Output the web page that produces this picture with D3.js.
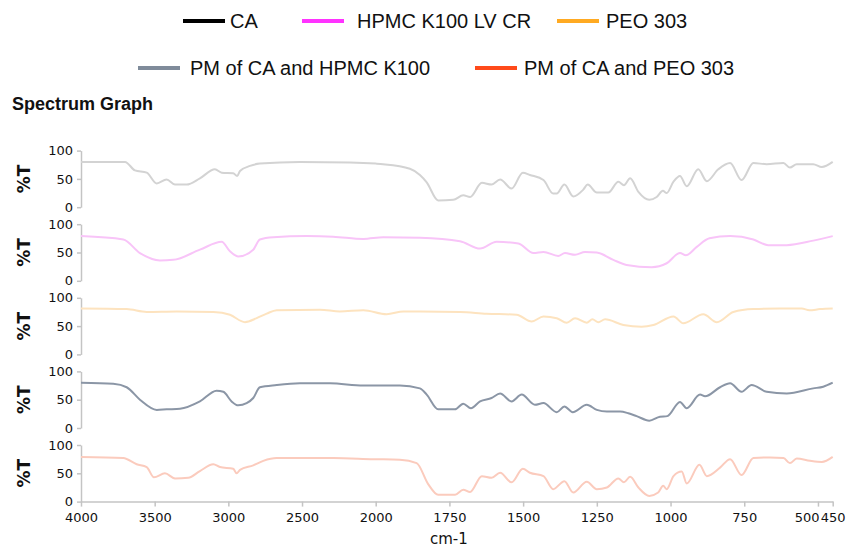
<!DOCTYPE html>
<html>
<head>
<meta charset="utf-8">
<script src="https://cdn.jsdelivr.net/npm/d3@7"></script>
<style>
  body { margin: 0; background: #fff; }
  svg { display: block; }
</style>
</head>
<body>
<svg id="chart" width="849" height="550"></svg>
<script>
// ---------- DATA ----------
const seriesNames = ["CA", "HPMC K100 LV CR", "PEO 303", "PM of CA and HPMC K100", "PM of CA and PEO 303"];
const legendColors = ["#000000", "#ff33ff", "#ffaa22", "#7f8b9a", "#ff4a1a"];
const lineColors = ["#d3d3d3", "#f8c4f8", "#fde3bf", "#8b96a6", "#fbcbbd"];

const xTicks = [4000, 3500, 3000, 2500, 2000, 1750, 1500, 1250, 1000, 750, 500, 450];
const yTicks = [0, 50, 100];

// [wavenumber (cm-1), %T]
const caData = [
  [4000,80],[3701,80],[3634,65],[3554,61],[3486,42],[3419,49],[3362,40],[3283,40],[3193,51],
  [3091,67],[3045,61],[2967,60],[2940,55],[2921,64],[2853,73],[2786,77],[2514,80],[2175,79],
  [2000,77],[1975,76],[1884,68],[1850,57],[1827,44],[1788,12],[1737,13],[1703,21],[1680,18],
  [1640,43],[1607,40],[1578,49],[1539,33],[1501,61],[1477,57],[1431,48],[1398,24],[1386,24],
  [1360,40],[1330,19],[1296,31],[1281,40],[1250,26],[1211,26],[1177,45],[1158,39],[1137,51],
  [1109,27],[1072,13],[1047,18],[1026,29],[1013,25],[990,45],[968,55],[945,37],[906,67],
  [877,46],[838,67],[798,78],[759,48],[719,78],[674,76],[617,78],[595,70],[572,76],[516,76],
  [487,71],[450,80]
];
const hpmcData = [
  [4000,79],[3713,73],[3600,49],[3464,36],[3374,37],[3193,55],[3045,69],[2989,52],[2933,43],
  [2831,55],[2786,73],[2695,77],[2469,79],[2288,78],[2084,74],[1974,77],[1850,76],[1714,70],
  [1646,57],[1590,69],[1516,66],[1465,49],[1431,51],[1381,44],[1358,49],[1324,46],[1290,51],
  [1250,50],[1194,37],[1149,28],[1064,24],[1013,31],[968,49],[948,45],[911,60],[868,75],
  [798,79],[719,73],[669,63],[606,63],[516,71],[450,79]
];
const peoData = [
  [4000,81],[3690,80],[3554,75],[3351,76],[3102,75],[2989,70],[2887,57],[2808,64],[2740,72],
  [2672,78],[2378,79],[2243,76],[2084,78],[1963,71],[1906,76],[1850,76],[1714,75],[1624,72],
  [1522,70],[1471,58],[1431,67],[1386,64],[1352,56],[1324,64],[1284,56],[1265,62],[1245,57],
  [1222,62],[1160,52],[1098,49],[1058,52],[990,67],[957,55],[889,71],[843,57],[787,75],
  [719,80],[629,81],[555,81],[529,78],[493,80],[450,81]
];
const pmHpmcData = [
  [4000,80],[3781,78],[3690,72],[3600,50],[3486,32],[3419,33],[3328,34],[3193,47],[3080,66],
  [3034,64],[2978,47],[2933,40],[2876,44],[2831,53],[2786,72],[2672,76],[2514,79],[2310,79],
  [2084,75],[1918,75],[1850,70],[1827,59],[1788,33],[1731,33],[1703,43],[1677,35],[1646,47],
  [1607,53],[1578,61],[1539,47],[1505,59],[1460,41],[1431,44],[1386,28],[1360,38],[1332,28],
  [1284,41],[1250,32],[1216,29],[1171,29],[1143,26],[1115,21],[1072,13],[1036,20],[1011,21],
  [968,46],[945,35],[900,59],[883,56],[832,72],[798,79],[759,64],[725,76],[674,64],[606,61],
  [516,70],[482,73],[450,80]
];
const pmPeoData = [
  [4000,79],[3713,77],[3622,66],[3554,61],[3505,43],[3430,50],[3362,41],[3272,42],[3193,54],
  [3102,66],[3057,61],[2967,58],[2944,50],[2921,56],[2831,64],[2763,72],[2672,77],[2288,77],
  [2016,75],[1918,74],[1861,68],[1822,31],[1788,12],[1731,12],[1703,21],[1680,17],[1640,45],
  [1607,42],[1578,51],[1539,34],[1501,58],[1477,51],[1431,45],[1398,22],[1360,36],[1330,16],
  [1284,35],[1250,22],[1216,25],[1177,41],[1158,34],[1137,44],[1109,25],[1072,10],[1042,16],
  [1025,28],[1013,22],[990,45],[962,53],[945,32],[902,65],[877,45],[832,60],[798,75],
  [759,47],[719,77],[663,78],[617,77],[595,68],[572,76],[527,72],[487,70],[450,79]
];
const allData = [caData, hpmcData, peoData, pmHpmcData, pmPeoData];

// ---------- LAYOUT ----------
const svg = d3.select("#chart");
const fontNum = "'DejaVu Sans', sans-serif";
const panelTop0 = 150.6, panelStep = 73.6, panelH = 56.6;

const x = d3.scaleLinear().domain([4000, 2000, 450]).range([81, 375.7, 832.7]);

// Legend
const legendRows = [
  [{i:0, lx:183, tx:230, y:21}, {i:1, lx:302, tx:357, y:21}, {i:2, lx:557, tx:606, y:21}],
  [{i:3, lx:138, tx:190, y:68}, {i:4, lx:475, tx:524, y:68}]
];
const lg = svg.append("g");
legendRows.flat().forEach(d => {
  lg.append("line")
    .attr("x1", d.lx).attr("x2", d.lx + 42)
    .attr("y1", d.y).attr("y2", d.y)
    .attr("stroke", legendColors[d.i]).attr("stroke-width", 4);
  lg.append("text")
    .attr("x", d.tx).attr("y", d.y + 7)
    .attr("font-family", "'Liberation Sans', Arial, sans-serif")
    .attr("font-size", 20)
    .attr("fill", "#111")
    .text(seriesNames[d.i]);
});

// Title
svg.append("text")
  .attr("x", 12).attr("y", 110)
  .attr("font-family", "'Liberation Sans', Arial, sans-serif")
  .attr("font-weight", "bold")
  .attr("font-size", 18)
  .attr("fill", "#111")
  .text("Spectrum Graph");

// Panels
allData.forEach((data, k) => {
  const top = panelTop0 + k * panelStep;
  const y = d3.scaleLinear().domain([0, 100]).range([top + panelH, top]);
  const g = svg.append("g");

  const ax = g.append("g")
    .attr("transform", "translate(81,0)")
    .call(d3.axisLeft(y).tickValues(yTicks).tickSize(4).tickSizeOuter(0).tickPadding(4));
  ax.select(".domain").attr("stroke", "#c4c4c4").attr("stroke-width", 1.5);
  ax.selectAll(".tick line").attr("stroke", "#c4c4c4").attr("stroke-width", 1.5);
  ax.selectAll(".tick text").attr("font-family", fontNum).attr("font-size", 13).attr("fill", "#111");

  g.append("text")
    .attr("transform", `translate(30,${top + panelH / 2}) rotate(-90)`)
    .attr("text-anchor", "middle")
    .attr("font-family", fontNum)
    .attr("font-weight", "bold")
    .attr("font-size", 17)
    .attr("fill", "#111")
    .text("%T");

  const line = d3.line()
    .x(d => x(d[0]))
    .y(d => y(d[1]))
    .curve(d3.curveMonotoneX);
  g.append("path")
    .datum(data)
    .attr("d", line)
    .attr("fill", "none")
    .attr("stroke", lineColors[k])
    .attr("stroke-width", 2)
    .attr("stroke-linejoin", "round");

  if (k === allData.length - 1) {
    const xa = g.append("g")
      .attr("transform", `translate(0,${top + panelH})`)
      .call(d3.axisBottom(x).tickValues(xTicks).tickSize(5).tickSizeOuter(0).tickPadding(6).tickFormat(d3.format("d")));
    xa.select(".domain").attr("stroke", "#c4c4c4").attr("stroke-width", 1.5);
    xa.selectAll(".tick line").attr("stroke", "#c4c4c4").attr("stroke-width", 1.5);
    xa.selectAll(".tick text").attr("font-family", fontNum).attr("font-size", 13).attr("fill", "#111");
    xa.selectAll(".tick").filter(d => d === 500).select("text").attr("text-anchor", "end").attr("dx", 1);
  }
});

// x-axis title
svg.append("text")
  .attr("x", 430).attr("y", 544)
  .attr("font-family", fontNum)
  .attr("font-size", 15)
  .attr("fill", "#111")
  .text("cm-1");
</script>
</body>
</html>
